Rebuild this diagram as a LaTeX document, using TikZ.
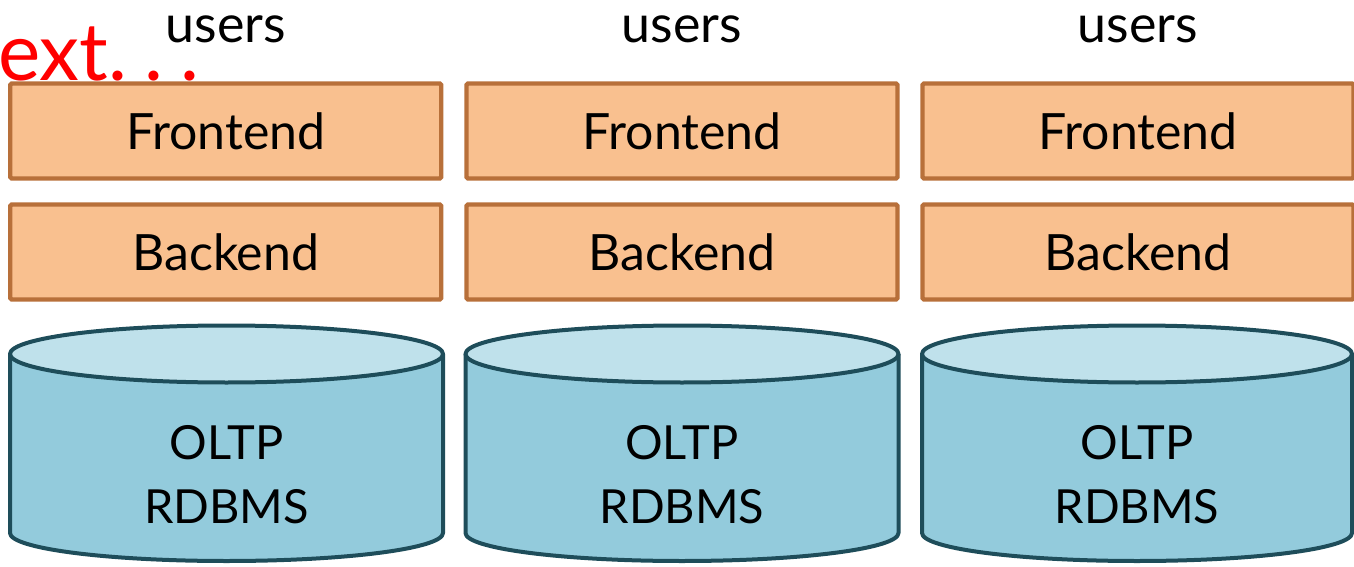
\documentclass[tikz,border=0pt]{standalone}
\usepackage{fontspec}
\setmainfont{Lato}
\definecolor{tierfill}{HTML}{F9C08F}
\definecolor{tierline}{HTML}{B8703A}
\definecolor{dbtop}{HTML}{BFE1EB}
\definecolor{dbside}{HTML}{93CBDC}
\definecolor{dbline}{HTML}{1E4D5A}
\definecolor{nextred}{HTML}{FF0000}
\tikzset{
  tier/.style={draw=tierline, fill=tierfill, line width=4.3pt, rounded corners=1.5pt,
    minimum width=431pt, minimum height=95pt, inner sep=0pt,
    font=\fontsize{50}{60}\selectfont},
  userlabel/.style={anchor=base, inner sep=0pt, font=\fontsize{52}{60}\selectfont},
  dblabel/.style={align=center, inner sep=0pt, font=\fontsize{47}{64}\selectfont},
  dbshape/.style={line width=4pt, draw=dbline, line join=round}
}
\newcommand{\dbcylinder}[3]{%
  % #1 = name, #2 = centre x, #3 = half width
  \fill[dbside] (#2-#3,212) -- (#2-#3,33)
    arc[start angle=180, end angle=360, x radius=#3, y radius=28] -- (#2+#3,212) -- cycle;
  \draw[dbshape] (#2-#3,212) -- (#2-#3,33)
    arc[start angle=180, end angle=360, x radius=#3, y radius=28] -- (#2+#3,212);
  \filldraw[dbshape, fill=dbtop] (#2,212) ellipse[x radius=#3, y radius=28.5];
  \node[dblabel] (#1) at (#2,91) {OLTP\\RDBMS};
}
\begin{document}
\begin{tikzpicture}[x=1pt, y=1pt]
  \useasboundingbox (0,0) rectangle (1354,566);

  % three identical application stacks
  \foreach \c/\k in {225.75/a, 682/b, 1138/c} {
    \node[userlabel] (users-\k) at (\c,523) {users};
    \node[tier] (front-\k) at (\c,435) {Frontend};
    \node[tier] (back-\k) at (\c,314) {Backend};
  }
  \dbcylinder{db-a}{226.5}{216.5}
  \dbcylinder{db-b}{682}{216.5}
  \dbcylinder{db-c}{1137}{215}

  \node[anchor=base west, inner sep=0pt, text=nextred,
        font=\fontsize{80}{90}\selectfont] (next) at (-2,485)
        {ext.\kern17pt.\kern17pt.};
\end{tikzpicture}
\end{document}
